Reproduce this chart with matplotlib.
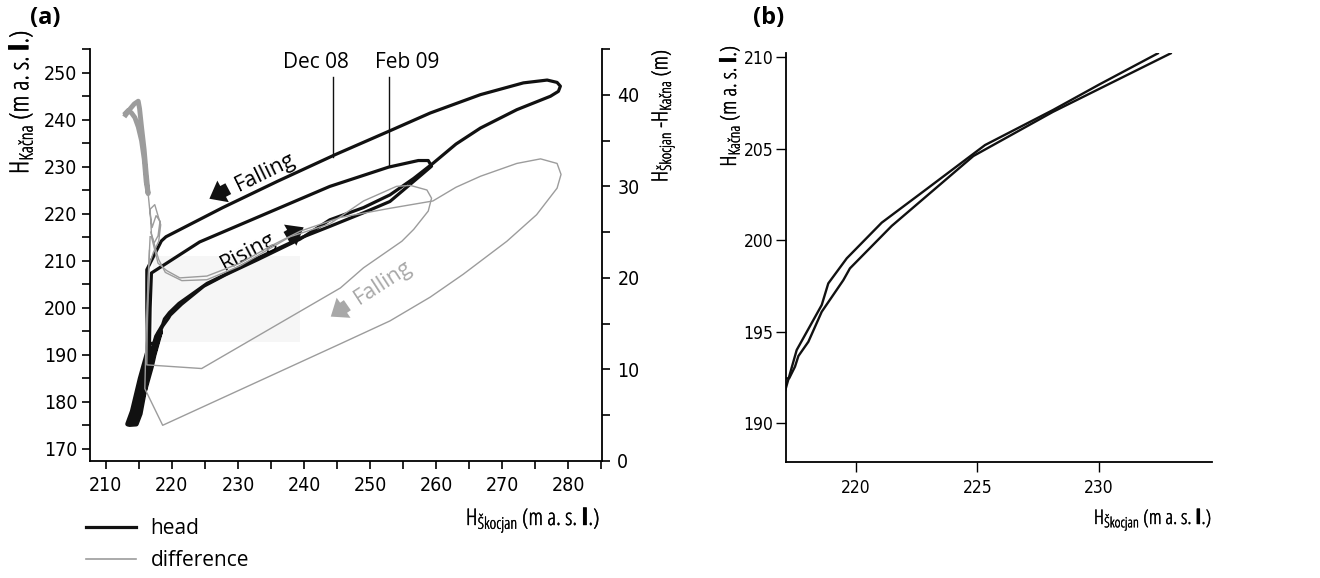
import matplotlib
matplotlib.use("Agg")
import matplotlib.pyplot as plt
import matplotlib.patheffects as pe
from matplotlib.lines import Line2D
from matplotlib.patches import Rectangle
from matplotlib.ticker import MultipleLocator

SANS = ["Open Sans", "DejaVu Sans"]
plt.rcParams["font.family"] = ["DejaVu Sans"]
plt.rcParams["font.stretch"] = "condensed"
plt.rcParams["mathtext.fontset"] = "custom"
plt.rcParams["mathtext.rm"] = "Open Sans:stretch=condensed"
plt.rcParams["mathtext.bf"] = "Open Sans:bold:stretch=condensed"

# ---- rising limbs (shared by both panels) ----
rise_feb09_x = [216.9, 217.56, 218.59, 218.86, 219.62, 221.06, 222.91, 225.31, 228.1, 230.04, 232.42]
rise_feb09_y = [190.9, 193.99, 196.45, 197.63, 199.0, 200.95, 202.79, 205.19, 207.1, 208.52, 210.2]
rise_dec08_x = [216.9, 217.25, 217.49, 217.63, 218.04, 218.59, 219.48, 219.75, 221.47, 224.83, 228.1, 232.95]
rise_dec08_y = [192.44, 192.44, 193.08, 193.66, 194.44, 196.08, 197.81, 198.45, 200.77, 204.59, 207.0, 210.2]

# ---- remainder of the head loops in panel (a) ----
loop_dec08_x = [239.4, 243.9, 249.0, 253.0, 256.6, 259.6, 263.0, 266.7, 272.2, 277.3, 278.5, 278.8,
                278.3, 276.8, 273.2, 266.7, 259.1, 252.8, 244.8, 236.0, 227.7, 219.1, 218.4, 216.2,
                216.2, 216.3, 216.1]
loop_dec08_y = [214.6, 218.7, 221.3, 224.0, 227.5, 230.8, 234.8, 238.2, 242.1, 244.96, 246.0, 247.1,
                247.9, 248.4, 247.8, 245.3, 241.4, 237.5, 232.6, 226.9, 221.3, 215.1, 214.2, 208.1,
                200.0, 193.0, 188.0]
loop_feb09_x = [239.4, 243.9, 249.0, 253.0, 257.8, 259.3, 258.8, 257.3, 252.8, 243.9, 224.2, 216.9,
                216.7, 216.6, 216.2]
loop_feb09_y = [214.8, 217.3, 220.2, 222.6, 228.3, 230.1, 231.3, 231.3, 229.9, 225.8, 214.0, 207.4,
                200.0, 192.0, 186.0]

# ---- low-water head cluster ----
base_head_x = [216.3, 215.8, 215.2, 214.6, 214.0, 213.3, 213.6, 214.6, 215.2, 215.6, 216.0, 216.5,
               217.0, 217.5, 217.9, 218.3, 217.8, 217.3, 216.9, 216.4, 215.9, 215.3, 214.8, 214.2,
               213.5, 214.3, 214.9, 215.4, 216.0, 216.6, 217.2, 218.0]
base_head_y = [190.5, 188.0, 185.0, 181.5, 178.0, 175.3, 175.2, 175.3, 177.5, 180.5, 183.5, 186.5,
               189.0, 191.5, 193.5, 195.0, 192.5, 190.0, 187.5, 185.0, 182.5, 180.0, 178.0, 176.3,
               175.4, 176.8, 179.5, 182.5, 185.5, 188.5, 191.5, 194.5]

# ---- head difference (right axis) ----
diff_dec08_x = [216.9, 217.9, 219.2, 221.2, 225.3, 230.3, 235.0, 239.4, 245.5, 253.0, 259.5, 263.0,
                266.7, 272.2, 275.8, 278.3, 278.9, 278.3, 275.2, 270.7, 264.1, 259.1, 253.0, 245.5,
                218.6, 215.9, 216.1, 216.4, 216.7]
diff_dec08_y = [24.5, 21.6, 20.8, 20.0, 20.2, 21.6, 23.5, 25.1, 26.6, 27.6, 28.4, 29.9,
                31.1, 32.5, 33.0, 32.5, 31.3, 29.8, 26.9, 24.0, 20.4, 17.9, 15.3, 12.8,
                3.9, 7.9, 14.0, 20.0, 24.5]
diff_feb09_x = [216.8, 218.0, 219.0, 221.5, 225.3, 230.3, 237.9, 243.9, 249.0, 254.0, 256.1, 258.6,
                259.3, 258.8, 256.6, 254.8, 249.0, 245.5, 224.5, 216.2, 216.3, 216.6]
diff_feb09_y = [25.0, 22.0, 20.6, 19.7, 19.8, 21.3, 24.5, 25.9, 28.4, 30.0, 30.1, 29.6,
                28.7, 27.3, 25.3, 24.0, 21.1, 18.9, 10.1, 10.5, 17.0, 23.0]
# dense low-flow band of the difference
band_diff_x = [213.0, 213.6, 214.3, 214.9, 215.1, 215.4, 215.8, 216.1, 216.4, 216.1, 215.8, 215.4,
               214.9, 214.4, 213.9, 213.4, 213.0]
band_diff_y = [37.8, 38.4, 39.0, 39.3, 38.5, 36.5, 34.0, 31.5, 29.2, 30.5, 33.0, 35.0,
               36.5, 37.5, 38.0, 38.3, 38.0]
# looser strands leaving the band
strand_diff_x = [216.4, 216.7, 217.0, 217.6, 218.2, 217.9, 217.3, 216.9, 216.7, 217.4, 218.3, 218.0,
                 217.2, 216.6]
strand_diff_y = [29.2, 27.0, 25.5, 26.8, 26.2, 24.6, 23.8, 24.8, 27.5, 28.0, 25.8, 24.0,
                 22.8, 21.5]

# zoomed region shown in panel (b)
inset_x = (217.1, 239.4)
inset_y = (192.8, 211.0)

event_labels = ["Dec 08", "Feb 09"]
event_x = [244.4, 252.8]
event_y_end = [232.1, 230.1]

BLACK = "#111111"
GRAY = "#9c9c9c"
W, H = 1320, 578
TXT = dict(family=SANS, stretch="normal")
LBL = dict(family=SANS, stretch="condensed",
           path_effects=[pe.withStroke(linewidth=0.3, foreground="black")])

fig = plt.figure(figsize=(W / 100, H / 100), dpi=100)


def fx(px):
    return px / W


def fy(py):
    return 1 - py / H


# ---------------- panel (a) ----------------
ax = fig.add_axes([fx(90), fy(461), fx(602) - fx(90), fy(49) - fy(461)])
ax2 = ax.twinx()
ax.set_xlim(207.6, 285.1)
ax.set_ylim(167.45, 255)
ax2.set_ylim(0, 45)

ax.add_patch(Rectangle((inset_x[0], inset_y[0]), inset_x[1] - inset_x[0], inset_y[1] - inset_y[0],
                       facecolor="#f6f6f6", edgecolor="none", zorder=0))

hw = 2.3
ax.plot(base_head_x, base_head_y, color=BLACK, lw=hw + 1.2, solid_joinstyle="round", zorder=3)
ax.plot(rise_dec08_x + loop_dec08_x, rise_dec08_y + loop_dec08_y, color=BLACK, lw=hw,
        solid_joinstyle="round", zorder=3)
ax.plot(rise_feb09_x + loop_feb09_x, rise_feb09_y + loop_feb09_y, color=BLACK, lw=hw,
        solid_joinstyle="round", zorder=3)

dw = 1.0
ax2.plot(band_diff_x, band_diff_y, color=GRAY, lw=dw + 2.5, solid_joinstyle="round")
ax2.plot(strand_diff_x, strand_diff_y, color=GRAY, lw=dw)
ax2.plot(diff_dec08_x, diff_dec08_y, color=GRAY, lw=dw)
ax2.plot(diff_feb09_x, diff_feb09_y, color=GRAY, lw=dw)

# event leaders
for lab, x, yend in zip(event_labels, event_x, event_y_end):
    ax.plot([x, x], [249.1, yend], color=BLACK, lw=1.0)
ax.text(241.8, 252.2, "Dec 08", fontsize=15, ha="center", va="center", **TXT)
ax.text(255.6, 252.2, "Feb 09", fontsize=15, ha="center", va="center", **TXT)

# direction labels
ax.text(234.2, 228.8, "Falling", fontsize=15.5, rotation=26,
        rotation_mode="anchor", ha="center", va="center", **TXT)
ax.text(231.5, 212.0, "Rising", fontsize=15.5, rotation=28,
        rotation_mode="anchor", ha="center", va="center", **TXT)
ax.text(252.0, 205.3, "Falling", fontsize=15.5, rotation=33, color="#a8a8a8",
        rotation_mode="anchor", ha="center", va="center", **TXT)

arrow_style = "simple,head_width=1.1,head_length=0.7,tail_width=0.55"
ax.annotate("", xy=(225.3, 222.9), xytext=(228.9, 225.6),
            arrowprops=dict(arrowstyle=arrow_style, mutation_scale=16, color=BLACK, lw=0))
ax.annotate("", xy=(240.3, 217.4), xytext=(237.0, 214.7),
            arrowprops=dict(arrowstyle=arrow_style, mutation_scale=16, color=BLACK, lw=0))
ax.annotate("", xy=(243.7, 197.8), xytext=(246.9, 200.9),
            arrowprops=dict(arrowstyle=arrow_style, mutation_scale=16, color="#a8a8a8", lw=0))

# axes styling
for a in (ax, ax2):
    a.spines["top"].set_visible(False)
    a.set_facecolor("none")
ax.spines["right"].set_visible(False)
ax2.spines["left"].set_visible(False)
ax2.spines["bottom"].set_visible(False)
for a in (ax, ax2):
    for s in a.spines.values():
        s.set_linewidth(1.3)

ax.xaxis.set_major_locator(MultipleLocator(10))
ax.xaxis.set_minor_locator(MultipleLocator(5))
ax.yaxis.set_major_locator(MultipleLocator(10))
ax.yaxis.set_minor_locator(MultipleLocator(5))
ax2.yaxis.set_major_locator(MultipleLocator(10))
ax2.yaxis.set_minor_locator(MultipleLocator(5))
ax.tick_params(which="both", direction="out", length=6, width=1.2, labelsize=14)
ax.tick_params(axis="x", which="both", pad=5)
ax.tick_params(axis="y", which="both", pad=3)
ax2.tick_params(which="both", direction="out", length=6, width=1.2, labelsize=14, pad=5)

fig.text(fx(600), fy(525), r"H$_{\mathrm{Škocjan}}$ (m a. s. $\mathbf{l}$.)", fontsize=16.5,
         ha="right", va="baseline", **LBL)
fig.text(fx(20), fy(30), r"H$_{\mathrm{Kačna}}$ (m a. s. $\mathbf{l}$.)", fontsize=19,
         rotation=90, ha="center", va="top", **LBL)
fig.text(fx(663), fy(49), r"H$_{\mathrm{Škocjan}}$ -H$_{\mathrm{Kačna}}$ (m)", fontsize=16,
         rotation=90, ha="center", va="top", **LBL)
fig.text(fx(30), fy(18), "(a)", fontsize=17, fontweight="bold", ha="left", va="center", **TXT)

# legend
handles = [Line2D([], [], color=BLACK, lw=2.3), Line2D([], [], color=GRAY, lw=1.2)]
fig.legend(handles, ["head", "difference"], loc="upper left", bbox_to_anchor=(fx(86), fy(518)),
           frameon=False, prop={"family": SANS, "size": 15, "stretch": "normal"},
           handlelength=2.4, handletextpad=0.7, labelspacing=0.55, borderpad=0, borderaxespad=0)

# ---------------- panel (b) ----------------
bx = fig.add_axes([fx(786), fy(462), fx(1212) - fx(786), fy(53) - fy(462)])
bx.plot(rise_feb09_x, rise_feb09_y, color=BLACK, lw=1.7)
bx.plot(rise_dec08_x, rise_dec08_y, color=BLACK, lw=1.7)
bx.set_xlim(217.12, 234.65)
bx.set_ylim(187.87, 210.22)
bx.spines["top"].set_visible(False)
bx.spines["right"].set_visible(False)
for s in bx.spines.values():
    s.set_linewidth(1.3)
bx.set_xticks([220, 225, 230])
bx.set_yticks([190, 195, 200, 205, 210])
bx.tick_params(direction="out", length=7, width=1.0, labelsize=12.5)
bx.tick_params(axis="x", pad=5)
bx.tick_params(axis="y", pad=2)

fig.text(fx(1212), fy(524), r"H$_{\mathrm{Škocjan}}$ (m a. s. $\mathbf{l}$.)", fontsize=14.5,
         ha="right", va="baseline", **LBL)
fig.text(fx(730), fy(45), r"H$_{\mathrm{Kačna}}$ (m a. s. $\mathbf{l}$.)", fontsize=16,
         rotation=90, ha="center", va="top", **LBL)
fig.text(fx(753), fy(18), "(b)", fontsize=17, fontweight="bold", ha="left", va="center", **TXT)

fig.savefig("out.png", dpi=100)
